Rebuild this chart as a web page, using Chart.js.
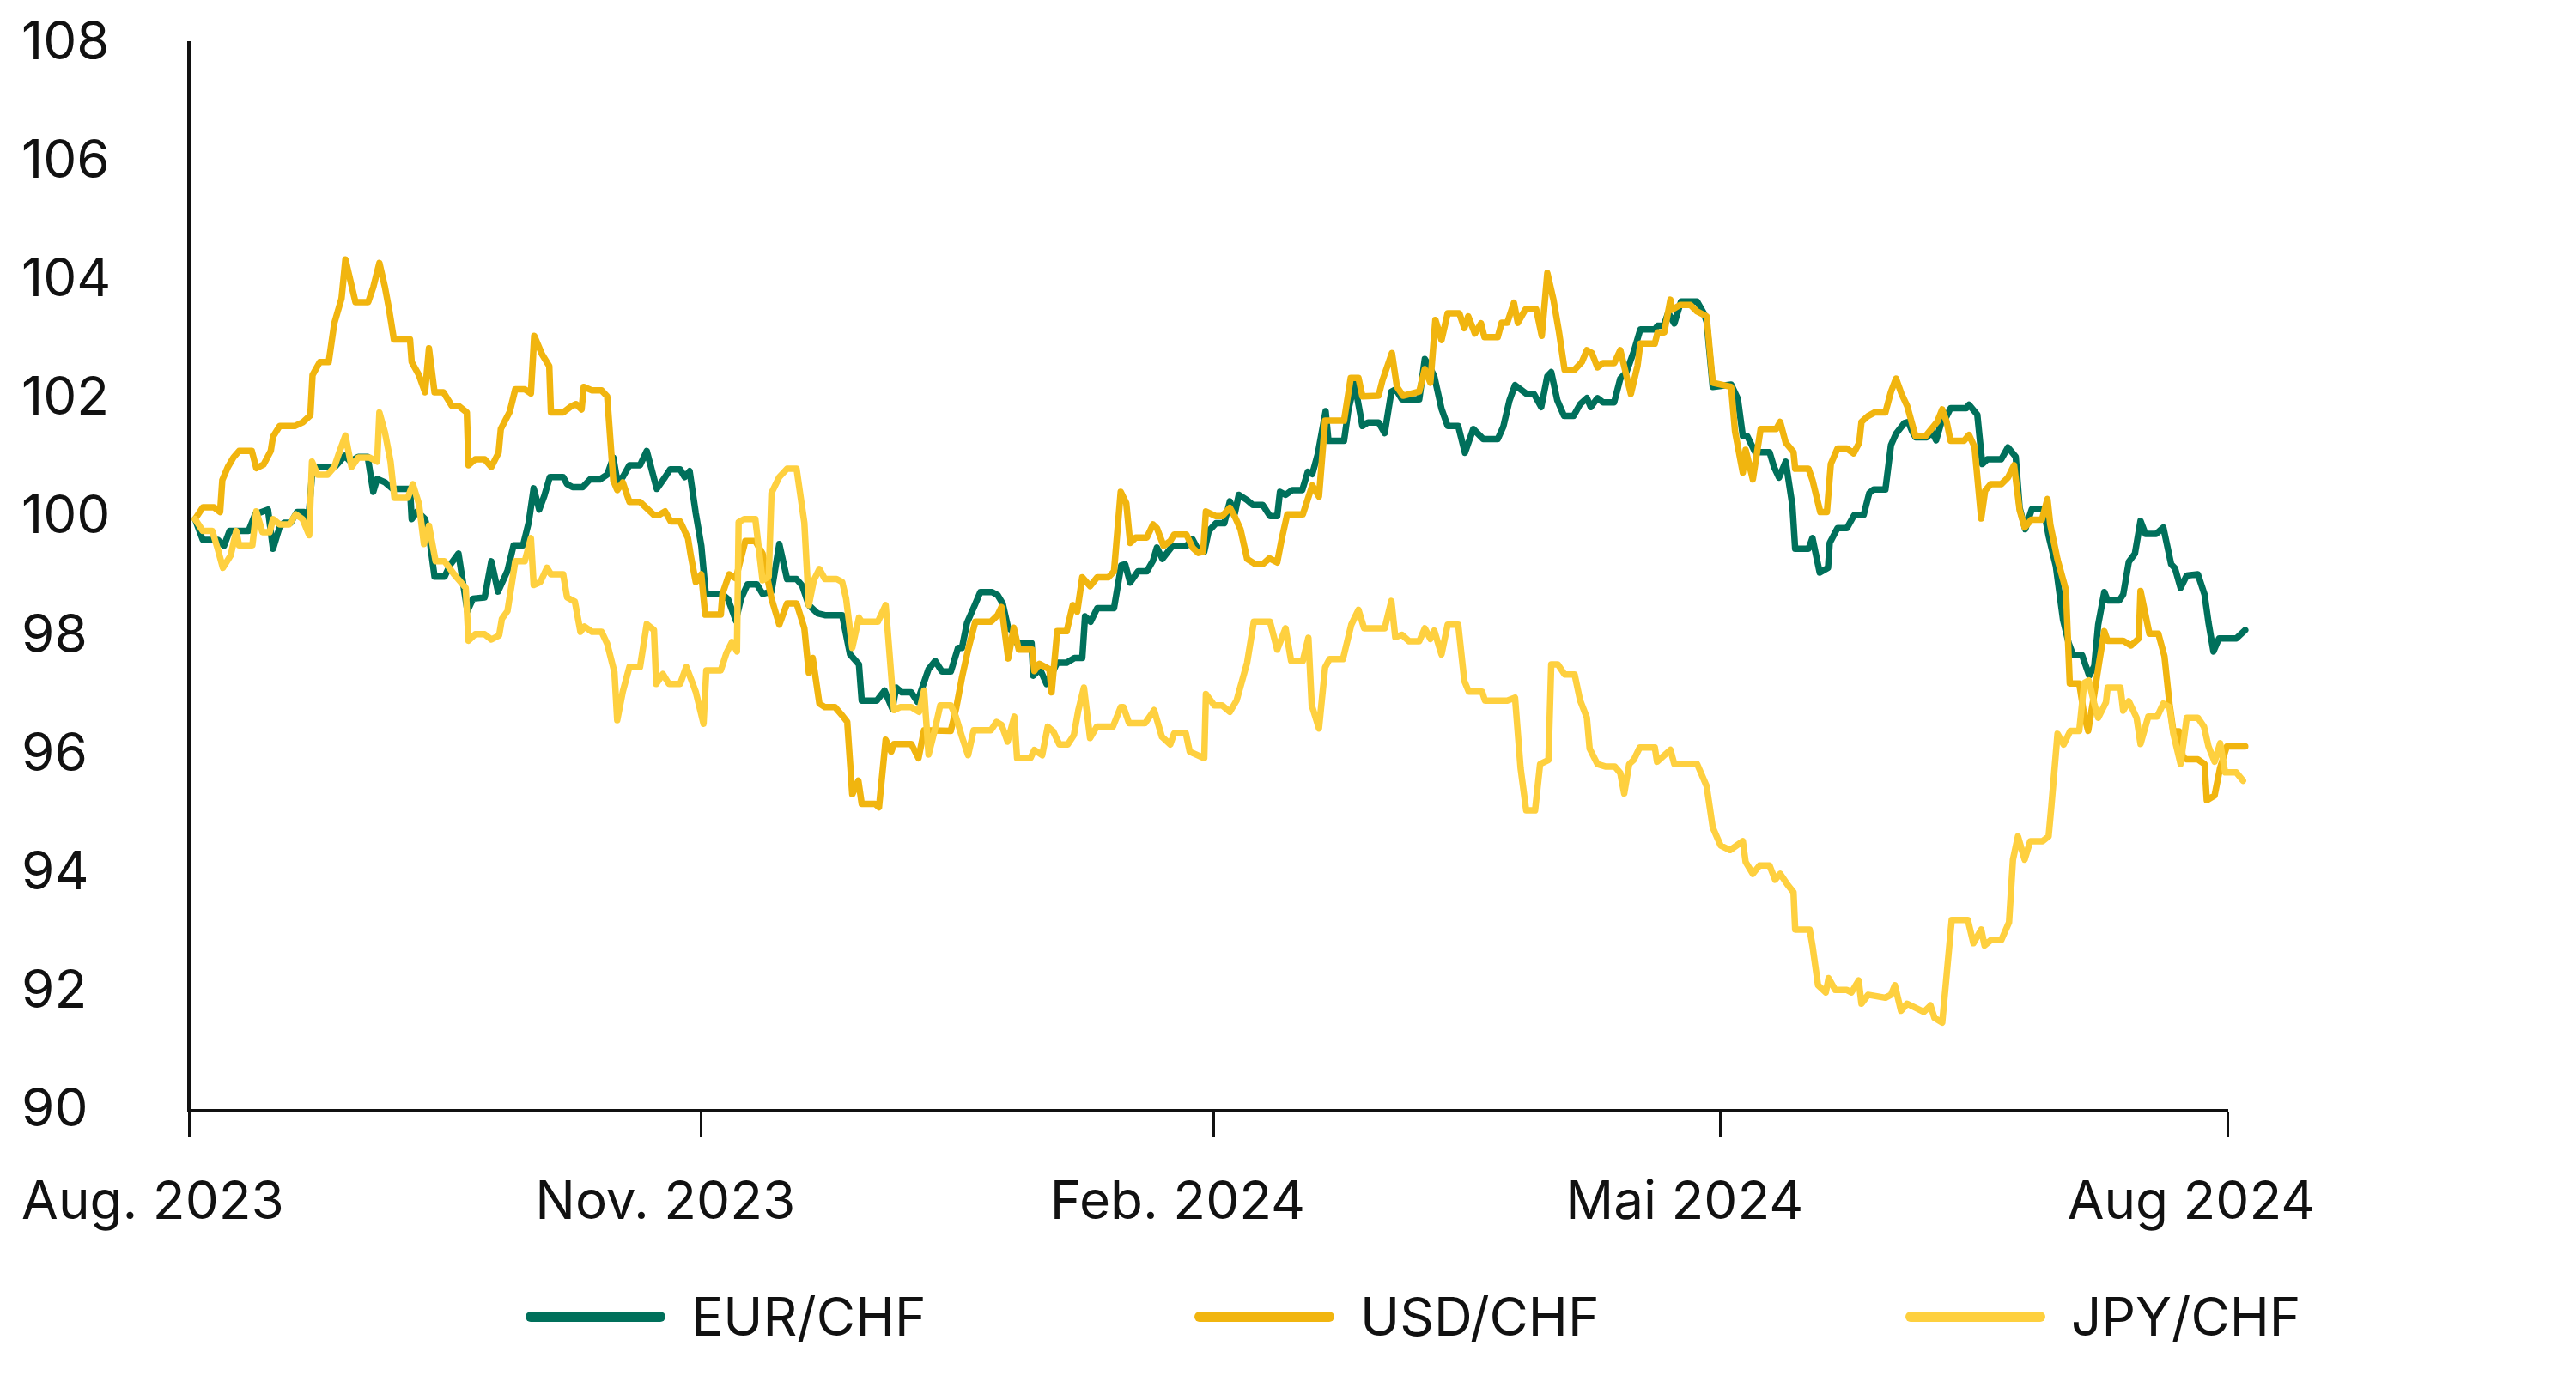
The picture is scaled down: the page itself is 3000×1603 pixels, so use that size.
<!DOCTYPE html>
<html>
<head>
<meta charset="utf-8">
<script src="https://cdn.jsdelivr.net/npm/chart.js@4.4.1/dist/chart.umd.min.js"></script>
<style>
  html, body { margin: 0; padding: 0; background: #fff; }
  #wrap { width: 3000px; height: 1603px; }
</style>
</head>
<body>
<div id="wrap"><canvas id="myChart" width="3000" height="1603"></canvas></div>
<script>
// x = days since 1 Aug 2023, y = index (start = 100)
const tickDays = [0, 92, 184, 275, 366];
const tickLabels = ['Aug. 2023', 'Nov. 2023', 'Feb. 2024', 'Mai 2024', 'Aug 2024'];

const eurChf = [[1.1,99.97],[2.5,99.62],[5.2,99.62],[6.3,99.52],[7.3,99.77],[10.7,99.77],[11.9,100.05],[14.2,100.13],[15.1,99.47],[16.3,99.84],[17.1,99.91],[18.3,99.91],[19.4,100.09],[20.7,100.09],[21.4,99.91],[22.2,100.81],[23.1,100.85],[26.2,100.85],[28,101.04],[29,100.94],[30.4,101.02],[32.1,101.02],[33.1,100.43],[33.8,100.65],[35.2,100.59],[36.6,100.48],[39.7,100.48],[40,99.97],[41,100.1],[42.4,99.97],[43.1,99.71],[44.1,99.0],[45.9,99.0],[46.9,99.2],[48.4,99.39],[50,98.42],[51,98.63],[53.1,98.65],[54.3,99.26],[55.5,98.75],[57.2,99.1],[58.3,99.53],[60,99.53],[61,99.91],[61.9,100.49],[62.9,100.13],[63.8,100.36],[64.8,100.68],[67.2,100.68],[67.9,100.56],[68.9,100.51],[70.7,100.51],[72,100.64],[73.8,100.64],[75.1,100.72],[76.2,101.01],[76.9,100.62],[77.9,100.68],[79.1,100.88],[81,100.88],[82.2,101.12],[84,100.48],[85.5,100.68],[86.4,100.81],[88.2,100.81],[89,100.68],[89.9,100.78],[91,100.07],[92,99.52],[92.8,98.71],[95.7,98.71],[96.8,98.62],[98.2,98.26],[99.1,98.62],[100.3,98.87],[102,98.87],[103,98.71],[104.6,98.75],[106,99.55],[107.4,98.96],[109.1,98.96],[110.1,98.85],[111.3,98.52],[112.9,98.38],[114.2,98.35],[117.3,98.35],[118.7,97.69],[120.3,97.52],[120.8,96.91],[123.5,96.91],[124.9,97.08],[126.3,96.77],[127,97.13],[128,97.05],[129.7,97.05],[130.8,96.89],[132.8,97.44],[134,97.58],[135.2,97.4],[136.8,97.4],[138.1,97.8],[138.8,97.8],[139.7,98.22],[141.1,98.52],[142.1,98.74],[144.2,98.74],[145.2,98.69],[146.1,98.55],[147.1,98.13],[148.1,98.08],[148.7,97.88],[151.3,97.88],[151.6,97.33],[152.8,97.44],[154,97.19],[155.9,97.55],[157.6,97.55],[159,97.63],[160.4,97.63],[160.9,98.33],[161.9,98.24],[163.1,98.47],[166.1,98.47],[167.4,99.19],[168.1,99.21],[169,98.9],[170.4,99.09],[172,99.09],[173.1,99.27],[173.8,99.49],[174.8,99.3],[176.6,99.52],[179.1,99.52],[180.2,99.63],[181.4,99.42],[182.3,99.42],[183.1,99.77],[184.4,99.9],[185.9,99.9],[186.9,100.27],[187.8,100.07],[188.5,100.38],[190,100.29],[191,100.21],[192.8,100.21],[194.1,100.02],[195.4,100.02],[195.9,100.43],[196.9,100.38],[198.1,100.46],[199.9,100.46],[200.9,100.77],[201.7,100.73],[202.7,101.07],[204.1,101.79],[204.6,101.29],[207.4,101.29],[208.2,101.82],[209.3,102.26],[210.7,101.54],[211.7,101.6],[213.6,101.6],[214.7,101.42],[215.9,102.12],[216.7,102.16],[217.8,101.99],[220.9,101.99],[221.9,102.67],[222.8,102.53],[223.6,102.38],[224.9,101.83],[226,101.54],[227.9,101.54],[229.1,101.09],[230.6,101.49],[232.4,101.32],[235,101.32],[236,101.53],[237.1,101.97],[238.1,102.23],[240.2,102.08],[241.5,102.08],[242.8,101.86],[243.9,102.38],[244.6,102.45],[245.7,101.97],[246.9,101.71],[248.6,101.71],[249.8,101.91],[251,102.01],[251.7,101.86],[252.9,102.01],[253.9,101.94],[255.9,101.94],[257,102.34],[258.1,102.45],[259.4,102.79],[260.6,103.17],[263.2,103.17],[263.7,103.23],[264.8,103.23],[265.6,103.45],[266.7,103.27],[267.9,103.64],[270.8,103.64],[272,103.44],[272.5,103.3],[273.6,102.2],[276.9,102.24],[278.1,102.0],[279,101.37],[279.8,101.37],[281.2,101.1],[283.8,101.1],[284.6,100.85],[285.5,100.67],[286.7,100.94],[287.9,100.2],[288.4,99.47],[290.8,99.47],[291.5,99.65],[292.8,99.07],[294.3,99.15],[294.6,99.57],[296,99.82],[297.7,99.82],[299,100.04],[300.7,100.04],[301.7,100.41],[302.5,100.47],[304.6,100.47],[305.6,101.22],[306.5,101.41],[308,101.59],[308.7,101.61],[309.4,101.45],[310,101.35],[312,101.35],[313,101.43],[313.7,101.3],[314.6,101.59],[315.5,101.69],[316.3,101.84],[319.1,101.84],[319.6,101.9],[321.1,101.73],[322,100.9],[322.9,100.98],[325.4,100.98],[326.6,101.18],[328,101.02],[328.7,100.16],[329.7,99.8],[330.9,100.14],[333,100.14],[333.9,99.69],[335.2,99.18],[336.5,98.27],[337.5,97.88],[338.3,97.68],[339.9,97.68],[341.2,97.33],[342.1,97.49],[342.8,98.19],[343.9,98.74],[344.5,98.6],[346.6,98.6],[347.3,98.7],[348.3,99.25],[349.4,99.39],[350.4,99.94],[351.3,99.72],[353.2,99.72],[354.5,99.83],[355.9,99.21],[356.6,99.14],[357.6,98.81],[358.7,99.02],[360.7,99.04],[361.9,98.7],[362.6,98.23],[363.5,97.74],[364.5,97.96],[367.6,97.96],[369.2,98.1]];

const usdChf = [[1.1,99.97],[2.5,100.17],[4.5,100.17],[5.6,100.09],[6,100.63],[7,100.85],[8,101.01],[9,101.12],[11.3,101.12],[12.1,100.83],[13.4,100.89],[14.7,101.12],[15.1,101.36],[16.3,101.54],[19,101.54],[20.4,101.6],[21.8,101.72],[22.2,102.4],[23.5,102.62],[25.1,102.62],[26.1,103.27],[27.4,103.69],[28.1,104.35],[29.9,103.63],[32.2,103.63],[33.1,103.88],[34.2,104.29],[35.2,103.88],[35.9,103.53],[36.8,103.0],[39.7,103.0],[40,102.62],[41.3,102.4],[42.4,102.11],[43.1,102.85],[44.1,102.11],[45.7,102.11],[47.2,101.88],[48.4,101.88],[49.9,101.77],[50.2,100.88],[51.4,100.98],[53.1,100.98],[54.3,100.85],[55.6,101.09],[56,101.49],[57.6,101.78],[58.6,102.16],[60.3,102.16],[61.4,102.09],[62,103.06],[63.4,102.75],[64.7,102.55],[65,101.77],[67.2,101.77],[68.6,101.87],[69.5,101.91],[70.5,101.82],[70.9,102.2],[72.4,102.14],[74.1,102.14],[75.1,102.04],[76.2,100.62],[76.9,100.46],[77.9,100.59],[79.1,100.26],[81,100.26],[83.5,100.04],[84.4,100.04],[85.5,100.1],[86.5,99.93],[88.2,99.93],[89.6,99.65],[90.1,99.36],[91,98.91],[92,99.04],[92.7,98.36],[95.5,98.36],[95.8,98.71],[97,99.04],[98.2,98.97],[99.9,99.6],[101.7,99.6],[103,99.39],[104.6,98.63],[106,98.19],[107.4,98.55],[109.1,98.55],[110.5,98.13],[111.3,97.38],[112,97.63],[113.2,96.86],[114.2,96.8],[116,96.8],[117.3,96.66],[118.2,96.55],[119.1,95.33],[120.2,95.56],[120.8,95.17],[123.2,95.17],[123.9,95.11],[125.1,96.25],[126.1,96.05],[126.6,96.18],[129.7,96.18],[131,95.94],[132,96.41],[136.8,96.4],[137.8,96.8],[138.8,97.3],[139.9,97.77],[141.2,98.24],[144,98.24],[145.2,98.35],[145.9,98.49],[147.1,97.62],[148.1,98.14],[149,97.77],[151.4,97.77],[151.8,97.41],[152.7,97.53],[154.5,97.44],[154.9,97.05],[155.9,98.08],[157.6,98.08],[158.7,98.52],[159.5,98.41],[160.4,98.99],[161.8,98.84],[163.1,98.99],[165.1,98.99],[166.1,99.09],[167.3,100.43],[168.3,100.24],[169,99.57],[170,99.66],[172,99.66],[173.1,99.88],[173.8,99.82],[175,99.52],[176.2,99.6],[176.9,99.71],[179.1,99.71],[180.2,99.49],[181.2,99.4],[182.1,99.42],[182.6,100.1],[184.4,100.02],[185.5,100.02],[186.9,100.16],[187.9,99.99],[188.8,99.8],[190,99.3],[191.5,99.21],[192.8,99.21],[194,99.31],[195.4,99.24],[196.2,99.63],[197.2,100.05],[200,100.05],[201.7,100.54],[202.9,100.35],[204,101.63],[207.4,101.63],[208.6,102.35],[210,102.35],[210.7,102.04],[213.6,102.05],[214.3,102.31],[216,102.77],[216.9,102.2],[218,102.05],[220.9,102.12],[221.9,102.5],[222.9,102.27],[223.8,103.33],[224.9,102.99],[226,103.44],[228.1,103.44],[229,103.19],[229.7,103.39],[230.9,103.1],[232,103.27],[232.6,103.04],[235,103.04],[235.7,103.28],[236.7,103.28],[237.9,103.62],[238.6,103.28],[240,103.51],[241.9,103.51],[242.9,103.06],[243.9,104.12],[245,103.67],[246,103.12],[247,102.49],[248.8,102.49],[250.1,102.62],[251,102.82],[251.9,102.77],[252.9,102.53],[253.9,102.6],[255.9,102.6],[257,102.82],[258.9,102.08],[260.1,102.56],[260.6,102.93],[263.2,102.93],[263.7,103.12],[264.9,103.12],[266,103.67],[266.3,103.5],[267.7,103.58],[269.6,103.58],[270.8,103.47],[272.5,103.39],[273.6,102.27],[276.9,102.2],[277.6,101.45],[279,100.75],[279.5,101.14],[280.8,100.64],[282.2,101.49],[285,101.49],[285.7,101.61],[286.7,101.26],[288.1,101.1],[288.4,100.82],[290.8,100.82],[291.5,100.63],[292.9,100.09],[294.1,100.09],[294.8,100.9],[296,101.16],[297.7,101.16],[298.9,101.08],[299.9,101.26],[300.3,101.61],[301.5,101.71],[302.7,101.77],[304.6,101.77],[305.6,102.12],[306.5,102.34],[307.5,102.08],[308.5,101.88],[310,101.37],[311.8,101.37],[313.9,101.61],[314.8,101.82],[315.6,101.61],[316.3,101.29],[318.7,101.29],[319.6,101.39],[320.6,101.19],[321.8,99.98],[322.5,100.45],[323.5,100.56],[325.4,100.56],[326.6,100.67],[327.7,100.88],[328.7,100.12],[329.6,99.83],[330.8,99.96],[332.7,99.96],[333.7,100.31],[334.2,99.88],[335.5,99.29],[337,98.78],[337.7,97.2],[339.4,97.2],[340.3,96.66],[341,96.4],[342.1,97.02],[343,97.57],[343.9,98.08],[344.5,97.92],[347.3,97.92],[348.7,97.84],[350.1,97.96],[350.4,98.76],[352,98.04],[353.6,98.04],[354.7,97.66],[355.6,96.86],[356.3,96.39],[357.3,96.39],[358,95.96],[358.7,95.92],[360.7,95.92],[361.9,95.84],[362.3,95.23],[363.7,95.31],[364.7,95.78],[365.9,96.14],[369.2,96.14]];

const jpyChf = [[1.1,99.97],[2.5,99.77],[4.2,99.77],[5.2,99.46],[6.1,99.15],[7.5,99.36],[8.5,99.77],[9,99.53],[11.4,99.53],[12.1,100.1],[13.2,99.75],[14.5,99.75],[15.1,99.97],[16.3,99.88],[18,99.88],[19.2,100.05],[20.4,99.97],[21.6,99.7],[22.1,100.94],[23.1,100.72],[24.9,100.72],[26.1,100.85],[26.9,101.07],[28.1,101.38],[29.2,100.85],[30.4,101.01],[32.4,101.01],[33.8,100.94],[34.2,101.77],[35.2,101.43],[36.2,100.94],[36.9,100.33],[39.3,100.33],[40.2,100.56],[41.3,100.23],[42.2,99.55],[43.1,99.86],[44.3,99.26],[45.9,99.26],[47.6,99.04],[49.7,98.81],[50.2,97.92],[51.4,98.03],[53.1,98.03],[54.3,97.94],[55.7,98.01],[56.2,98.29],[57.2,98.42],[58.6,99.26],[60.3,99.26],[61.4,99.65],[61.9,98.86],[63.1,98.91],[64.3,99.15],[65,99.04],[67.2,99.04],[67.9,98.65],[69.3,98.58],[70.3,98.07],[71,98.16],[72.4,98.07],[74.1,98.07],[75.1,97.87],[76.4,97.39],[76.9,96.58],[77.9,97.06],[79.1,97.48],[81,97.48],[82.2,98.2],[83.5,98.1],[83.9,97.19],[85.1,97.36],[86.2,97.19],[88.2,97.19],[89.3,97.48],[90.2,97.26],[91,97.06],[92.4,96.52],[92.9,97.42],[95.5,97.42],[96.5,97.71],[97.5,97.9],[98.4,97.74],[98.7,99.92],[99.7,99.97],[101.7,99.97],[103,98.94],[104.1,99.0],[104.6,100.41],[106,100.68],[107.4,100.82],[109.1,100.82],[110.5,99.91],[111.3,98.52],[112.2,98.94],[113.2,99.13],[114.2,98.96],[116.3,98.96],[117.3,98.91],[118,98.63],[119.1,97.8],[120.3,98.31],[120.8,98.24],[123.7,98.24],[125.1,98.52],[126.6,96.75],[127.7,96.8],[129.7,96.8],[131.1,96.72],[132,97.08],[132.8,96.0],[133.9,96.41],[134.9,96.83],[136.8,96.83],[137.7,96.64],[138.8,96.3],[139.9,95.99],[140.9,96.41],[144,96.41],[145,96.55],[145.9,96.5],[147,96.22],[148.2,96.64],[148.7,95.94],[151.1,95.94],[151.8,96.08],[153.2,95.99],[154.2,96.47],[155.2,96.39],[156.3,96.17],[157.8,96.17],[158.9,96.33],[159.7,96.75],[160.7,97.13],[161.8,96.28],[163,96.47],[165.9,96.47],[167.3,96.8],[167.8,96.8],[168.8,96.53],[171.7,96.53],[173.3,96.75],[174.7,96.3],[176.2,96.17],[176.9,96.36],[179,96.36],[179.7,96.05],[182.3,95.94],[182.6,97.02],[184.1,96.83],[185.5,96.83],[186.9,96.72],[188.1,96.91],[190,97.55],[191.2,98.24],[194.1,98.24],[195.4,97.77],[196.9,98.13],[197.9,97.58],[200,97.58],[201,97.97],[201.6,96.83],[202.9,96.44],[204,97.47],[204.8,97.61],[207.2,97.61],[208.7,98.19],[210,98.44],[211,98.13],[214.7,98.13],[215.9,98.59],[216.6,97.98],[217.8,98.02],[219.1,97.91],[220.9,97.91],[221.9,98.13],[222.9,97.95],[223.6,98.09],[224.9,97.69],[226,98.19],[227.9,98.19],[229,97.24],[229.8,97.06],[232.2,97.06],[232.7,96.91],[236.7,96.91],[238.1,96.96],[239.1,95.77],[240.1,95.06],[241.7,95.06],[242.6,95.84],[244.1,95.91],[244.6,97.52],[245.8,97.52],[247,97.35],[248.8,97.35],[249.8,96.91],[251,96.62],[251.5,96.1],[252.9,95.84],[254.3,95.8],[256,95.8],[257,95.69],[257.7,95.34],[258.6,95.84],[259.4,95.91],[260.5,96.12],[263.2,96.12],[263.6,95.88],[266,96.08],[266.7,95.84],[270.8,95.84],[272.5,95.47],[273.6,94.77],[275,94.47],[276.7,94.39],[279,94.54],[279.5,94.19],[280.8,93.99],[282,94.13],[283.8,94.13],[284.8,93.89],[285.7,93.99],[287,93.81],[288.1,93.68],[288.4,93.05],[291,93.05],[291.5,92.78],[292.5,92.11],[293.9,91.99],[294.4,92.23],[295.6,92.03],[297.7,92.03],[298.5,91.99],[299.8,92.19],[300.3,91.8],[301.5,91.95],[304.6,91.9],[305.6,91.95],[306.3,92.11],[307.4,91.68],[308.5,91.8],[311.5,91.66],[312.7,91.77],[313.4,91.56],[314.8,91.48],[316.5,93.21],[319.4,93.21],[320.4,92.82],[321.8,93.05],[322.4,92.78],[323.5,92.87],[325.4,92.87],[326.8,93.17],[327.5,94.23],[328.4,94.62],[329.6,94.23],[330.6,94.54],[332.8,94.54],[333.9,94.62],[334.4,95.13],[335.5,96.35],[336.6,96.17],[337.8,96.4],[339.4,96.4],[340.3,97.21],[341.1,97.25],[342.1,96.86],[342.8,96.62],[344.2,96.88],[344.5,97.13],[346.8,97.13],[347.3,96.74],[348.3,96.9],[349.7,96.62],[350.4,96.18],[351.8,96.64],[353.4,96.64],[354.5,96.86],[355.6,96.8],[356.3,96.35],[357.6,95.84],[358.7,96.62],[360.7,96.62],[361.8,96.47],[362.6,96.14],[363.7,95.88],[364.7,96.19],[365.6,95.7],[367.6,95.7],[368.8,95.56]];

const FONT = 'Inter, Lato, sans-serif';
const toPts = arr => arr.map(p => ({ x: p[0], y: p[1] }));

// legend drawn by hand: line sample + label under the chart
const legendX = [612, 1391, 2219];
const bottomLegend = {
  id: 'bottomLegend',
  afterDraw(chart) {
    const ctx = chart.ctx;
    ctx.save();
    ctx.font = '62px ' + FONT;
    ctx.textBaseline = 'middle';
    chart.data.datasets.forEach((ds, i) => {
      const x = legendX[i];
      ctx.strokeStyle = ds.borderColor;
      ctx.lineWidth = 12;
      ctx.lineCap = 'round';
      ctx.beginPath();
      ctx.moveTo(x + 6, 1534);
      ctx.lineTo(x + 157, 1534);
      ctx.stroke();
      ctx.fillStyle = '#111';
      ctx.fillText(ds.label, x + 193, 1537);
    });
    ctx.restore();
  }
};

const ctx = document.getElementById('myChart').getContext('2d');
const chart = new Chart(ctx, {
  type: 'line',
  data: {
    datasets: [
      { label: 'EUR/CHF', data: toPts(eurChf), borderColor: '#00705b', order: 3, clip: false },
      { label: 'USD/CHF', data: toPts(usdChf), borderColor: '#f1b50f', order: 2, clip: false },
      { label: 'JPY/CHF', data: toPts(jpyChf), borderColor: '#fed03f', order: 1, clip: false }
    ]
  },
  options: {
    responsive: false,
    animation: false,
    events: [],
    layout: { padding: { left: 25, right: 406, top: 50, bottom: 124 } },
    elements: {
      point: { radius: 0 },
      line: { borderWidth: 7.5, tension: 0, fill: false, borderJoinStyle: 'round', borderCapStyle: 'round' }
    },
    scales: {
      x: {
        type: 'linear',
        bounds: 'data',
        afterDataLimits: s => { s.min = 0; s.max = 366; },
        afterBuildTicks: s => { s.ticks = tickDays.map(v => ({ value: v })); },
        grid: { display: true, drawOnChartArea: false, drawTicks: true, tickLength: 31, tickWidth: 3, tickColor: '#111', color: '#111' },
        border: { display: true, color: '#111', width: 4 },
        ticks: {
          autoSkip: false, maxRotation: 0, padding: 40, labelOffset: -42,
          color: '#111', font: { family: FONT, size: 62 },
          callback: v => tickLabels[tickDays.indexOf(v)]
        }
      },
      y: {
        min: 90,
        max: 108,
        grid: { display: false },
        border: { display: true, color: '#111', width: 4 },
        ticks: { stepSize: 2, crossAlign: 'far', color: '#111', font: { family: FONT, size: 62 } },
        afterFit: s => { s.width = 195; }
      }
    },
    plugins: {
      legend: { display: false },
      tooltip: { enabled: false }
    }
  },
  plugins: [bottomLegend]
});
</script>
</body>
</html>
